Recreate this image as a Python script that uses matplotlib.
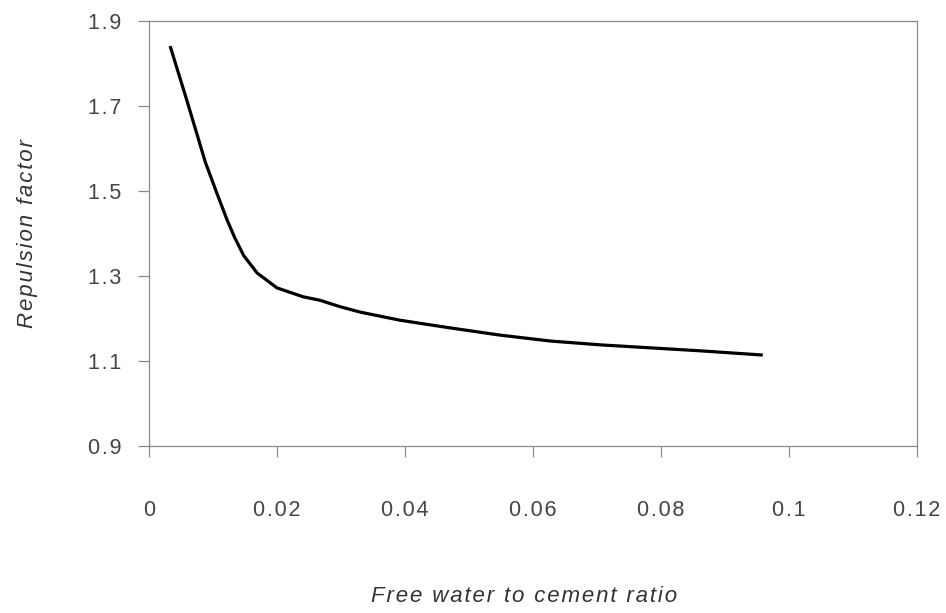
import matplotlib.pyplot as plt
from matplotlib.ticker import FuncFormatter

# Values
ratio = [0.0033, 0.0059, 0.0088, 0.0106, 0.0122, 0.0134, 0.0148, 0.0169,
         0.0200, 0.0241, 0.0267, 0.0298, 0.0330, 0.0392, 0.0470, 0.0548,
         0.0627, 0.0705, 0.0783, 0.0861, 0.0959]
repulsion = [1.841, 1.714, 1.568, 1.495, 1.432, 1.390, 1.348, 1.307,
             1.272, 1.251, 1.243, 1.228, 1.215, 1.196, 1.178, 1.161,
             1.147, 1.138, 1.131, 1.124, 1.114]

x_ticks = [0, 0.02, 0.04, 0.06, 0.08, 0.1, 0.12]
y_ticks = [0.9, 1.1, 1.3, 1.5, 1.7, 1.9]

SP = '\u200a'  # hair space, to widen the letter spacing like the original


def spaced(s):
    return SP.join(s)


plt.rcParams['font.family'] = ['Liberation Sans', 'DejaVu Sans']

fig = plt.figure(figsize=(9.46, 6.13), dpi=100)
ax = fig.add_axes([149 / 946, 1 - 446 / 613, 768 / 946, 425 / 613])

ax.plot(ratio, repulsion, color='black', linewidth=2.3,
        solid_joinstyle='round', solid_capstyle='butt')

ax.set_xlim(0, 0.12)
ax.set_ylim(0.9, 1.9)
ax.set_xticks(x_ticks)
ax.set_yticks(y_ticks)
ax.xaxis.set_major_formatter(FuncFormatter(lambda v, p: spaced('%g' % round(v, 3))))
ax.yaxis.set_major_formatter(FuncFormatter(lambda v, p: spaced('%.1f' % v)))

for s in ax.spines.values():
    s.set_color('#8a8a8a')
    s.set_linewidth(0.9)

ax.tick_params(axis='both', direction='out', length=8, width=0.9,
               color='#8a8a8a', labelsize=15.5, labelcolor='#444444')
ax.tick_params(axis='x', pad=31)
ax.tick_params(axis='y', pad=12)

fig.text(524 / 946, 1 - 596 / 613, spaced('Free water to cement ratio'),
         ha='center', va='center', fontsize=16, style='italic', color='#333333')
fig.text(27 / 946, 1 - 234 / 613, spaced('Repulsion factor'), ha='center',
         va='center', fontsize=16, style='italic', color='#333333',
         rotation=90)

fig.savefig('out.png', dpi=100)
